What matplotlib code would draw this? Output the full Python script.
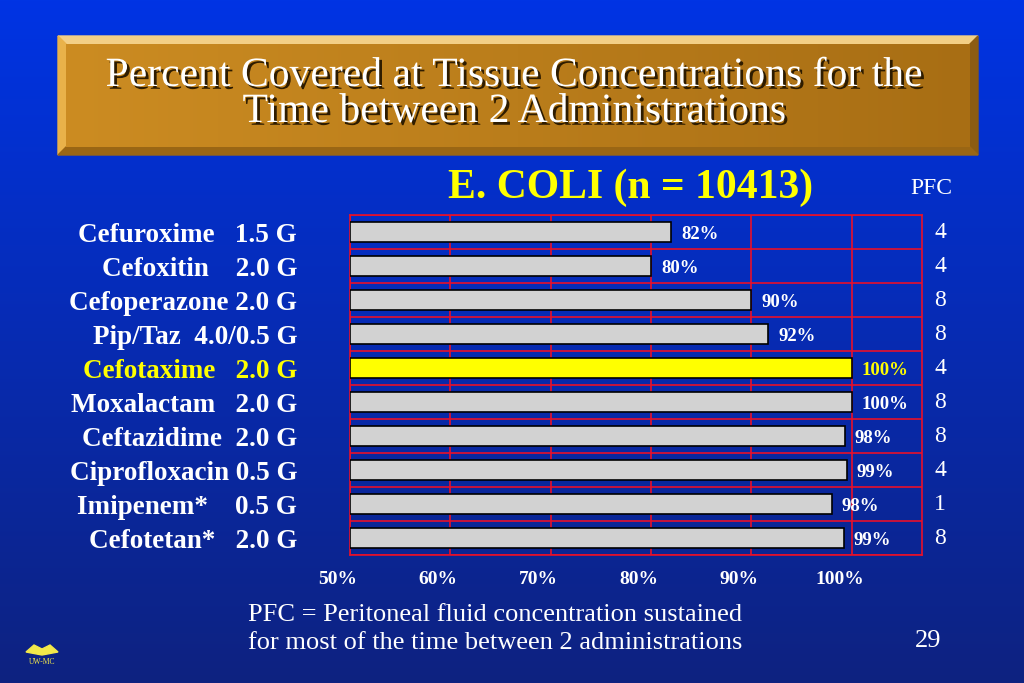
import numpy as np
import matplotlib
matplotlib.use("Agg")
import matplotlib.pyplot as plt
from matplotlib.patches import Polygon
import matplotlib.patheffects as pe

# data
drugs = ["Cefuroxime   1.5 G", "Cefoxitin    2.0 G", "Cefoperazone 2.0 G",
         "Pip/Taz  4.0/0.5 G", "Cefotaxime   2.0 G", "Moxalactam   2.0 G",
         "Ceftazidime  2.0 G", "Ciprofloxacin 0.5 G", "Imipenem*    0.5 G",
         "Cefotetan*   2.0 G"]
coverage = [82, 80, 90, 91.7, 100, 100, 99.3, 99.5, 98, 99.2]   # bar lengths as drawn
labels = ["82%", "80%", "90%", "92%", "100%", "100%", "98%", "99%", "98%", "99%"]
pfc = [4, 4, 8, 8, 4, 8, 8, 4, 1, 8]
highlight = "Cefotaxime   2.0 G"
xticks = [50, 60, 70, 80, 90, 100]

plt.rcParams['font.family'] = ['Liberation Serif', 'DejaVu Serif']

fig = plt.figure(figsize=(10.24, 6.83), dpi=100)

# background, pixel coordinates
bg = fig.add_axes([0, 0, 1, 1])
bg.axis('off')
grad = np.linspace(0, 1, 256).reshape(-1, 1)
top = np.array([0, 52, 228]) / 255
bot = np.array([14, 34, 128]) / 255
bg.imshow(top + (bot - top) * grad[..., None], extent=[0, 1024, 683, 0], aspect='auto', zorder=0)

# title box with bevel
bg.add_patch(Polygon([[58, 36], [978, 36], [970, 44], [66, 44]], color='#f3cf86', zorder=1))
bg.add_patch(Polygon([[58, 36], [66, 44], [66, 147], [58, 155]], color='#e9b24a', zorder=1))
bg.add_patch(Polygon([[978, 36], [978, 155], [970, 147], [970, 44]], color='#8c5c12', zorder=1))
bg.add_patch(Polygon([[58, 155], [66, 147], [970, 147], [978, 155]], color='#9a6614', zorder=1))
face = np.linspace(0, 1, 256).reshape(1, -1)
c1 = np.array([204, 140, 34]) / 255
c2 = np.array([168, 110, 20]) / 255
bg.imshow(c1 + (c2 - c1) * face[..., None], extent=[66, 970, 147, 44], aspect='auto', zorder=2)
bg.set_xlim(0, 1024)
bg.set_ylim(683, 0)
shadow = [pe.withSimplePatchShadow(offset=(2, -2), shadow_rgbFace='#2e1c00', alpha=1.0)]
bg.text(514, 86, "Percent Covered at Tissue Concentrations for the", color='white',
        fontsize=30, ha='center', va='baseline', path_effects=shadow, zorder=3)
bg.text(514, 122, "Time between 2 Administrations", color='white',
        fontsize=30, ha='center', va='baseline', path_effects=shadow, zorder=3)

bg.text(631, 188, "E. COLI (n = 10413)", color='#ffff00', fontsize=30, fontweight='bold',
        ha='center', va='center', zorder=3)
bg.text(931, 189, "PFC", color='white', fontsize=17,
        ha='center', va='center', zorder=3)

bg.text(248, 615, "PFC = Peritoneal fluid concentration sustained", color='white',
        fontsize=19, ha='left', va='center', zorder=3)
bg.text(248, 643, "for most of the time between 2 administrations", color='white',
        fontsize=19, ha='left', va='center', zorder=3)
bg.text(928, 641, "29", color='white', fontsize=19, ha='center', va='center', zorder=3)

# little UW-MC logo
bg.add_patch(Polygon([[26, 652], [34, 645], [42, 649], [50, 645], [58, 652], [42, 655]],
                     color='#f2e84a', zorder=3))
bg.text(42, 662, "UW-MC", color='#f2e84a', fontsize=5.5, ha='center', va='center', zorder=3)

# chart
ax = fig.add_axes([350 / 1024, 1 - 555 / 683, 572 / 1024, 340 / 683])
ax.set_facecolor('none')
y = np.arange(len(drugs))
colors = ['#ffff00' if d == highlight else '#d2d2d2' for d in drugs]
ax.barh(y, np.array(coverage) - 50, left=50, height=0.58, color=colors,
        edgecolor='black', linewidth=1.2, zorder=3)
ax.set_xlim(50, 107)
ax.set_ylim(len(drugs) - 0.5, -0.5)

ax.set_xticks(xticks)
ax.set_xticklabels([])
# tick labels sit a little left of their grid lines on the slide
for t in xticks:
    ax.annotate(f"{t}%", xy=(t, 0), xycoords=ax.get_xaxis_transform(),
                xytext=(-12, -25), textcoords='offset pixels', color='white',
                fontsize=14, fontweight='bold', ha='center', va='center',
                annotation_clip=False)
ax.set_yticks(y)
ax.set_yticklabels(drugs, fontsize=19.5, fontweight='bold')
for lab, d in zip(ax.get_yticklabels(), drugs):
    lab.set_color('#ffff00' if d == highlight else 'white')
ax.set_yticks(np.arange(len(drugs) + 1) - 0.5, minor=True)
ax.tick_params(axis='x', length=0)
ax.tick_params(axis='y', which='major', length=0, pad=38)
ax.tick_params(axis='y', which='minor', length=0)
red = '#e8102a'
ax.grid(True, axis='x', which='major', color=red, linewidth=1.2, zorder=1)
ax.grid(True, axis='y', which='minor', color=red, linewidth=1.2, zorder=1)
ax.grid(False, axis='y', which='major')
for s in ax.spines.values():
    s.set_color(red)
    s.set_linewidth(1.2)

for i, (v, lab, d) in enumerate(zip(coverage, labels, drugs)):
    ax.text(v + 1.0, i + 0.08, lab, color='#ffff00' if d == highlight else 'white',
            fontsize=13.5, fontweight='bold', ha='left', va='center', zorder=4)

for i, p in enumerate(pfc):
    ax.text(108.2, i, str(p), color='white', fontsize=17, ha='left', va='center',
            clip_on=False)

fig.savefig("out.png", dpi=100)
